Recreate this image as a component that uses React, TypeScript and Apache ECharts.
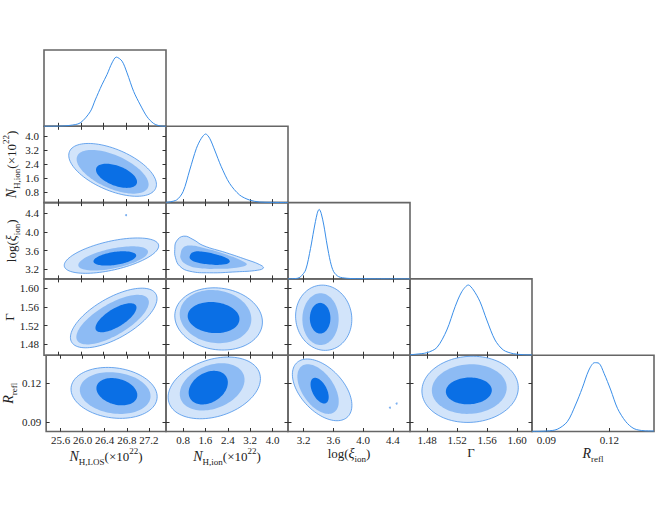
import React, { useEffect, useRef } from "react";
import * as echarts from "echarts";

// ---------- axis ranges and tick labels (per parameter) ----------
// 0: N_H,LOS  1: N_H,ion  2: log(xi_ion)  3: Gamma  4: R_refl
const paramMin = [25.34, 0.19, 2.99, 1.457, 0.0831];
const paramMax = [27.51, 4.55, 4.63, 1.62, 0.1412];
const nhLosTicks = [25.6, 26.0, 26.4, 26.8, 27.2];
const nhIonTicks = [0.8, 1.6, 2.4, 3.2, 4.0];
const logXiTicks = [3.2, 3.6, 4.0, 4.4];
const gammaTicks = [1.48, 1.52, 1.56, 1.6];
const reflTicks = [0.09, 0.12];
const tickDecimals = [1, 1, 1, 2, 2];
const axisTitles = [
  "{i|N}{s|H,LOS}{r|(×10}{p|22}{r|)}",
  "{i|N}{s|H,ion}{r|(×10}{p|22}{r|)}",
  "{r|log(}{i|ξ}{s|ion}{r|)}",
  "{r|Γ}",
  "{i|R}{s|refl}",
];

// ---------- 1D marginal distributions (x value, relative height) ----------
const nhLosX = [25.34, 25.62, 25.8, 25.983, 26.161, 26.251, 26.37, 26.46, 26.549, 26.626, 26.728, 26.817, 26.935, 27.054, 27.174, 27.292, 27.411, 27.51];
const nhLosH = [0, 0.002, 0.012, 0.044, 0.19, 0.345, 0.544, 0.677, 0.83, 0.907, 0.854, 0.7, 0.456, 0.279, 0.124, 0.036, 0.004, 0];
const nhIonX = [0.19, 0.565, 0.8, 1.038, 1.277, 1.454, 1.607, 1.75, 1.928, 2.166, 2.461, 2.82, 3.173, 3.529, 4.003, 4.55];
const nhIonH = [0.003, 0.034, 0.143, 0.427, 0.711, 0.843, 0.899, 0.843, 0.689, 0.47, 0.253, 0.1, 0.034, 0.008, 0.003, 0];
const logXiX = [2.99, 3.116, 3.16, 3.227, 3.293, 3.337, 3.383, 3.409, 3.436, 3.471, 3.516, 3.56, 3.604, 3.671, 3.783, 3.916, 4.63];
const logXiH = [0, 0.008, 0.029, 0.117, 0.4, 0.64, 0.86, 0.912, 0.86, 0.706, 0.444, 0.225, 0.094, 0.029, 0.008, 0.003, 0];
const gammaX = [1.457, 1.464, 1.4796, 1.4929, 1.5062, 1.5173, 1.5262, 1.535, 1.5417, 1.5506, 1.5596, 1.5706, 1.5817, 1.595, 1.6084, 1.62];
const gammaH = [0.005, 0.012, 0.033, 0.1, 0.33, 0.636, 0.832, 0.92, 0.855, 0.7, 0.461, 0.199, 0.068, 0.02, 0.007, 0.004];
const reflX = [0.0831, 0.0903, 0.0951, 0.0999, 0.1038, 0.107, 0.1102, 0.1129, 0.115, 0.1174, 0.1206, 0.1238, 0.1278, 0.1317, 0.1365, 0.1412];
const reflH = [0.002, 0.007, 0.029, 0.128, 0.347, 0.566, 0.806, 0.902, 0.894, 0.763, 0.544, 0.304, 0.128, 0.037, 0.01, 0.007];

// ---------- 2D credible regions: [centerX, centerY, halfWidthX, halfHeightY, correlation]
// order: outer (light), middle, inner (dark)
const losIonRegions = [[26.56, 2.06, 0.78, 1.51, -0.55], [26.56, 1.95, 0.64, 1.25, -0.58], [26.63, 1.72, 0.365, 0.69, -0.5]];
const losXiRegions = [[26.54, 3.49, 0.84, 0.38, 0.55], [26.57, 3.43, 0.62, 0.26, 0.55], [26.6, 3.43, 0.38, 0.154, 0.4]];
const losGammaRegions = [[26.58, 1.5365, 0.77, 0.0637, 0.65], [26.56, 1.533, 0.645, 0.053, 0.7], [26.62, 1.537, 0.365, 0.031, 0.7]];
const losReflRegions = [[26.57, 0.1125, 0.78, 0.0194, -0.15], [26.59, 0.1124, 0.64, 0.0159, -0.15], [26.62, 0.1134, 0.37, 0.0104, -0.25]];
const ionGammaRegions = [[2.07, 1.5345, 1.566, 0.0665, -0.1], [1.96, 1.5395, 1.28, 0.0568, -0.1], [1.89, 1.5374, 0.925, 0.0332, -0.1]];
const ionReflRegions = [[1.915, 0.1163, 1.65, 0.0235, 0.3], [1.84, 0.1171, 1.157, 0.018, 0.3], [1.7, 0.1165, 0.7, 0.0128, 0.3]];
const xiGammaRegions = [[3.47, 1.537, 0.378, 0.0697, -0.05], [3.427, 1.534, 0.244, 0.0554, 0], [3.422, 1.536, 0.138, 0.0328, 0]];
const xiReflRegions = [[3.449, 0.1148, 0.4, 0.0235, -0.5], [3.394, 0.1154, 0.278, 0.0189, -0.5], [3.415, 0.1142, 0.122, 0.0098, -0.5]];
const gammaReflRegions = [[1.5373, 0.1152, 0.0644, 0.0252, 0.05], [1.5362, 0.1154, 0.05, 0.0189, 0.05], [1.5356, 0.114, 0.0307, 0.0102, 0.05]];
// N_H,ion vs log(xi): traced outlines (x, y)
const ionXiLight = [[0.504, 3.623], [0.565, 3.802], [0.825, 3.909], [1.156, 3.838], [1.511, 3.709], [2.344, 3.552], [3.056, 3.407], [3.529, 3.3], [3.672, 3.228], [3.469, 3.177], [2.7, 3.142], [1.75, 3.121], [1.038, 3.155], [0.682, 3.263], [0.529, 3.444]];
const ionXiMid = [[0.707, 3.515], [0.8, 3.659], [1.038, 3.709], [1.511, 3.659], [2.344, 3.515], [2.935, 3.371], [3.078, 3.3], [2.817, 3.241], [2.106, 3.207], [1.276, 3.228], [0.86, 3.321], [0.718, 3.422]];
const ionXiDark = [[1.038, 3.478], [1.156, 3.565], [1.511, 3.573], [1.988, 3.515], [2.401, 3.422], [2.461, 3.349], [2.223, 3.3], [1.75, 3.3], [1.276, 3.349], [1.074, 3.407]];
// isolated specks
const losXiSpecks = [[26.8, 4.36]];
const xiReflSpecks = [[4.36, 0.1012], [4.45, 0.1044]];

const paramTicks = [nhLosTicks, nhIonTicks, logXiTicks, gammaTicks, reflTicks];
const marginals = [[nhLosX, nhLosH], [nhIonX, nhIonH], [logXiX, logXiH], [gammaX, gammaH], [reflX, reflH]];
const regionsByPanel: Record<string, any[]> = {
  "1-0": losIonRegions,
  "2-0": losXiRegions,
  "3-0": losGammaRegions,
  "4-0": losReflRegions,
  "2-1": [ionXiLight, ionXiMid, ionXiDark],
  "3-1": ionGammaRegions,
  "4-1": ionReflRegions,
  "3-2": xiGammaRegions,
  "4-2": xiReflRegions,
  "4-3": gammaReflRegions,
};
const specksByPanel: Record<string, number[][]> = { "2-0": losXiSpecks, "4-2": xiReflSpecks };

const FONT = "'Liberation Serif', 'Times New Roman', serif";
const TEXT = "#222";
const LINE = "#3a8ee8";
const FILLS = ["#d2e4fa", "#8dbbf4", "#0a6fe5"];
const OUTLINE = "#4a93ea";

const nameRich = {
  r: { fontFamily: FONT, fontSize: 13, color: TEXT, lineHeight: 20 },
  i: { fontFamily: FONT, fontStyle: "italic", fontSize: 14, color: TEXT, lineHeight: 20 },
  s: { fontFamily: FONT, fontSize: 9, color: TEXT, lineHeight: 9, verticalAlign: "bottom" },
  p: { fontFamily: FONT, fontSize: 9, color: TEXT, lineHeight: 9, verticalAlign: "top" },
};

function outline(s: any): number[][] {
  if (typeof s[0] === "number") {
    const [cx, cy, hx, hy, rho] = s;
    const q = Math.sqrt(1 - rho * rho);
    const pts: number[][] = [];
    for (let k = 0; k < 96; k++) {
      const t = (k / 96) * 2 * Math.PI;
      pts.push([cx + hx * Math.cos(t), cy + hy * (rho * Math.cos(t) + q * Math.sin(t))]);
    }
    return pts;
  }
  return s;
}
function center(s: any): number[] {
  if (typeof s[0] === "number") return [s[0], s[1]];
  const n = s.length;
  return [s.reduce((a: number, p: number[]) => a + p[0], 0) / n, s.reduce((a: number, p: number[]) => a + p[1], 0) / n];
}

function buildOption() {
  const L = 44, T = 50, CW = 122, RH = 76.3;
  const grid: any[] = [], xAxis: any[] = [], yAxis: any[] = [], series: any[] = [];
  const tick = (p: number) => ({
    show: true, inside: true, length: 3.5, customValues: paramTicks[p],
    lineStyle: { color: "#333", width: 1 },
  });
  const label = (p: number, show: boolean, margin: number) => ({
    show, customValues: paramTicks[p], margin,
    formatter: (v: number) => v.toFixed(tickDecimals[p]),
    fontFamily: FONT, fontSize: 11, color: TEXT,
  });
  const makeX = (p: number, g: number, pos: string, lab: boolean) => ({
    type: "value", gridIndex: g, position: pos, min: paramMin[p], max: paramMax[p],
    axisLine: { show: false }, splitLine: { show: false },
    axisTick: tick(p), axisLabel: label(p, lab, 3),
    name: lab ? axisTitles[p] : "", nameLocation: "middle", nameGap: 8,
    nameTextStyle: { rich: nameRich },
  });
  const makeY = (p: number, g: number, pos: string, lab: boolean) => ({
    type: "value", gridIndex: g, position: pos, min: paramMin[p], max: paramMax[p],
    axisLine: { show: false }, splitLine: { show: false },
    axisTick: tick(p), axisLabel: label(p, lab, 5),
    name: lab ? axisTitles[p] : "", nameLocation: "middle", nameGap: 21, nameRotate: 90,
    nameTextStyle: { rich: nameRich },
  });

  for (let i = 0; i < 5; i++) {
    for (let j = 0; j <= i; j++) {
      const g = grid.length;
      grid.push({
        left: L + j * CW, top: T + i * RH, width: CW, height: RH,
        show: true, borderColor: "#666", borderWidth: 1.6, backgroundColor: "transparent",
      });
      const diag = i === j;
      const xb = xAxis.length;
      xAxis.push(makeX(j, g, "bottom", i === 4));
      if (!diag) xAxis.push({ ...makeX(j, g, "top", false) });
      const yl = yAxis.length;
      if (diag) {
        yAxis.push({ type: "value", gridIndex: g, min: 0, max: 1, show: false });
        const [xs, hs] = marginals[i];
        series.push({
          type: "line", xAxisIndex: xb, yAxisIndex: yl,
          data: xs.map((x, k) => [x, hs[k]]),
          smooth: 0.3, showSymbol: false, clip: true,
          lineStyle: { color: LINE, width: 1 },
        });
      } else {
        yAxis.push(makeY(i, g, "left", j === 0));
        yAxis.push(makeY(i, g, "right", false));
        const key = `${i}-${j}`;
        const shapes = regionsByPanel[key];
        series.push({
          type: "custom", xAxisIndex: xb, yAxisIndex: yl, clip: true,
          data: shapes.map((s) => center(s)),
          renderItem: (params: any, api: any) => {
            const s = shapes[params.dataIndex];
            const isPoly = typeof s[0] !== "number";
            const pts = outline(s).map((p) => api.coord(p));
            const lvl = params.dataIndex;
            return {
              type: "polygon",
              shape: { points: pts, smooth: isPoly ? 0.45 : 0 },
              style: {
                fill: FILLS[lvl],
                stroke: lvl === 0 ? OUTLINE : null,
                lineWidth: lvl === 0 ? 0.8 : 0,
              },
            };
          },
        });
        const sp = specksByPanel[key];
        if (sp) {
          series.push({
            type: "scatter", xAxisIndex: xb, yAxisIndex: yl, data: sp,
            symbolSize: 2, itemStyle: { color: "#5b9cec" }, silent: true,
          });
        }
      }
    }
  }
  return { animation: false, backgroundColor: "#fff", grid, xAxis, yAxis, series };
}

export default function App() {
  const ref = useRef<HTMLDivElement>(null);
  useEffect(() => {
    if (!ref.current) return;
    const chart = echarts.init(ref.current, undefined, { renderer: "svg" });
    chart.setOption(buildOption() as any);
    return () => chart.dispose();
  }, []);
  return (
    <div
      ref={ref}
      style={{ position: "absolute", left: 0, top: 0, width: 660, height: 510 }}
    />
  );
}
